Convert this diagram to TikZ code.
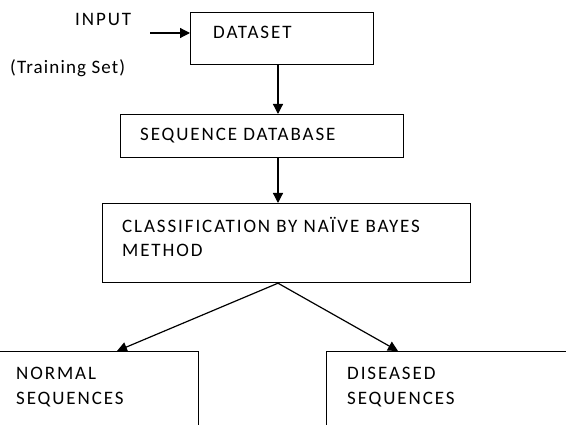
\documentclass[tikz,border=0pt]{standalone}
\usepackage{fontspec}
\setmainfont[LetterSpace=10]{Carlito}
\usetikzlibrary{arrows.meta}
\begin{document}
\begin{tikzpicture}[x=1pt,y=-1pt,
  box/.style={draw,line width=1.2pt,rectangle,inner sep=0pt,anchor=north west},
  lbl/.style={anchor=base west,inner sep=0pt,font=\fontsize{19}{22}\selectfont},
  arr/.style={line width=1.2pt,-{Triangle[length=10pt,width=10pt]}},
  ln/.style={line width=1.2pt}]
\useasboundingbox (0,0) rectangle (566,425);
\begin{scope}
\clip (0,0) rectangle (566,425);
% boxes
\node[box,minimum width=183pt,minimum height=52pt] (dataset) at (190,12) {};
\node[box,minimum width=283pt,minimum height=43pt] (seqdb) at (120,114) {};
\node[box,minimum width=368pt,minimum height=79pt] (classif) at (102,203) {};
\node[box,minimum width=199pt,minimum height=90pt] (normal) at (-1,351) {};
\node[box,minimum width=244pt,minimum height=90pt] (diseased) at (326,351) {};
% labels
\node[lbl] (tinput) at (75,26) {INPUT};
\node[lbl,font=\fontsize{19}{22}\selectfont\addfontfeatures{LetterSpace=6}] (ttrain) at (10,74) {(Training Set)};
\node[lbl] (tdataset) at (213,39) {DATASET};
\node[lbl] (tseqdb) at (140,141) {SEQUENCE DATABASE};
\node[lbl] (tclass1) at (122,233) {CLASSIFICATION BY NAÏVE BAYES};
\node[lbl] (tclass2) at (122,257) {METHOD};
\node[lbl] (tnorm1) at (16,380) {NORMAL};
\node[lbl] (tnorm2) at (16,404) {SEQUENCES};
\node[lbl] (tdis1) at (347,380) {DISEASED};
\node[lbl] (tdis2) at (347,404) {SEQUENCES};
% connectors
\coordinate (in) at (150,33);
\coordinate (mid) at (278,0);
\coordinate (split) at (classif.south -| mid);
\coordinate (nt) at (117,351);
\coordinate (dt) at (398,351);
\draw[arr] (in) -- (in -| dataset.west);
\draw[arr] (dataset.south -| mid) -- (seqdb.north -| mid);
\draw[arr] (seqdb.south -| mid) -- (classif.north -| mid);
\draw[arr] (split) -- (nt);
\draw[arr] (split) -- (dt);
\end{scope}
\end{tikzpicture}
\end{document}
